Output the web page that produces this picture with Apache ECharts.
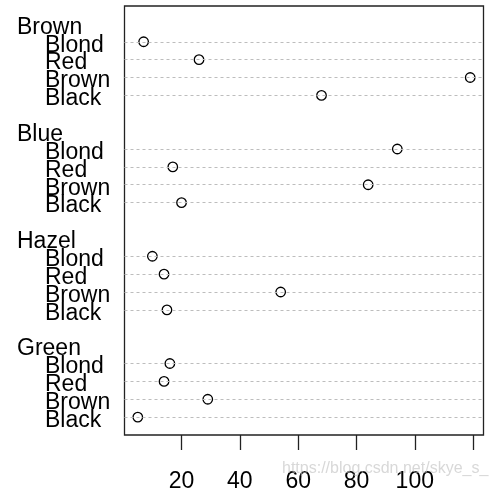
<!DOCTYPE html>
<html>
<head>
<meta charset="utf-8">
<script src="https://cdn.jsdelivr.net/npm/echarts@6/dist/echarts.min.js"></script>
<style>html,body{margin:0;padding:0;background:#fff}#c{width:492px;height:493px}</style>
</head>
<body>
<div id="c"></div>
<script>
// Eye colour groups (top to bottom) and hair colour rows (top to bottom within group)
const eyeGroups = ['Brown', 'Blue', 'Hazel', 'Green'];
const hairRows = ['Blond', 'Red', 'Brown', 'Black'];
// counts per eye group, in hairRows order
const brownEye = [7, 26, 119, 68];
const blueEye = [94, 17, 84, 20];
const hazelEye = [10, 14, 54, 15];
const greenEye = [16, 14, 29, 5];
const xTicks = [20, 40, 60, 80, 100, 120];
const xLabels = [20, 40, 60, 80, 100];

const groupValues = [brownEye, blueEye, hazelEye, greenEye];

// dotchart layout: groups stacked from bottom, 2 units gap between groups
const points = [];
const rowPos = [], rowLabelMap = {};
const groupPos = [], groupLabelMap = {};
const nG = eyeGroups.length, nR = hairRows.length;
for (let gi = 0; gi < nG; gi++) {
  const k = nG - 1 - gi; // index from bottom
  const base = k * (nR + 2);
  for (let ri = 0; ri < nR; ri++) {
    const j = nR - 1 - ri;
    const y = base + j + 1;
    points.push([groupValues[gi][ri], y]);
    rowPos.push(y);
    rowLabelMap[y] = hairRows[ri];
  }
  const gy = base + nR + 1;
  groupPos.push(gy);
  groupLabelMap[gy] = eyeGroups[gi];
}
const yMax = nG * (nR + 2);

const allX = points.map(p => p[0]);
const xmin = Math.min(...allX), xmax = Math.max(...allX);
const pad = (xmax - xmin) * 0.04;
const xLo = xmin - pad, xHi = xmax + pad;

const font = 'Liberation Sans, Arial, sans-serif';
const chart = echarts.init(document.getElementById('c'), null, {renderer: 'canvas'});

function labelSeries(posList, map, dx) {
  return {
    type: 'scatter', silent: true, symbolSize: 0, z: 5,
    data: posList.map(y => [xLo, y]),
    itemStyle: {opacity: 1},
    emphasis: {disabled: true},
    label: {
      show: true, position: [dx, 3.5], align: 'left', verticalAlign: 'middle',
      fontSize: 23, fontFamily: font, color: '#000', opacity: 1,
      formatter: p => map[p.value[1]]
    },
    labelLayout: {hideOverlap: false}
  };
}

chart.setOption({
  animation: false,
  grid: {left: 124.5, top: 6, right: 8.5, bottom: 54.7, show: true, borderColor: '#222', borderWidth: 1.3, backgroundColor: 'transparent'},
  xAxis: {
    type: 'value', min: xLo, max: xHi,
    axisLine: {show: false},
    splitLine: {show: false},
    axisTick: {show: true, inside: false, length: 15, customValues: xTicks, lineStyle: {color: '#222', width: 1.3}},
    axisLabel: {customValues: xLabels, margin: 35, fontSize: 23, fontFamily: font, color: '#000', hideOverlap: false}
  },
  yAxis: {
    type: 'value', min: 0, max: yMax,
    axisLine: {show: false}, axisTick: {show: false}, splitLine: {show: false}, axisLabel: {show: false}
  },
  series: [{
    type: 'scatter', data: points, symbol: 'circle', symbolSize: 9.5,
    itemStyle: {color: '#fff', borderColor: '#000', borderWidth: 1.3, opacity: 1},
    z: 3,
    markLine: {
      silent: true, symbol: 'none', animation: false,
      label: {show: false},
      lineStyle: {color: '#bdbdbd', type: [3, 3], width: 1},
      emphasis: {disabled: true},
      data: rowPos.map(y => ({yAxis: y}))
    }
  },
  labelSeries(rowPos, rowLabelMap, -79.5),
  labelSeries(groupPos, groupLabelMap, -107.5)
  ],
  graphic: [{
    type: 'text', left: 282, top: 461,
    style: {text: 'https://blog.csdn.net/skye_s_', fontSize: 16, fontFamily: font, fill: 'rgba(190,190,190,0.6)'},
    z: 10
  }]
});
</script>
</body>
</html>
